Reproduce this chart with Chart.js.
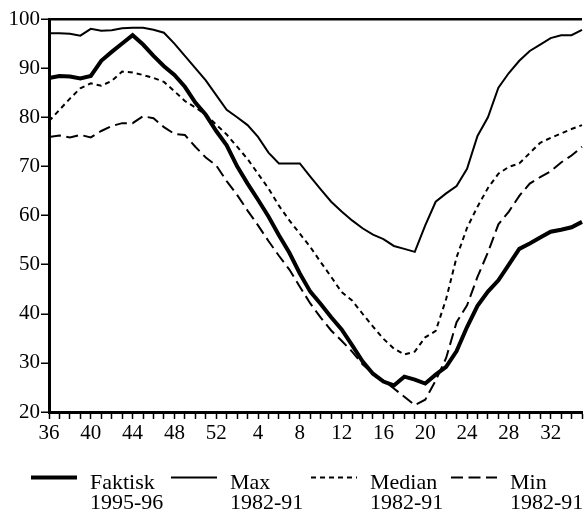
<!DOCTYPE html>
<html>
<head>
<meta charset="utf-8">
<script src="https://cdn.jsdelivr.net/npm/chart.js@4.4.0/dist/chart.umd.min.js"></script>
<style>
  html, body { margin: 0; padding: 0; background: #fff; }
  canvas { display: block; }
</style>
</head>
<body>
<canvas id="chart" width="584" height="512"></canvas>
<script>
// uker: 36-52, så 1-35
const weeks = [36, 37, 38, 39, 40, 41, 42, 43, 44, 45, 46, 47, 48, 49, 50, 51, 52,
  1, 2, 3, 4, 5, 6, 7, 8, 9, 10, 11, 12, 13, 14, 15, 16, 17, 18, 19, 20,
  21, 22, 23, 24, 25, 26, 27, 28, 29, 30, 31, 32, 33, 34, 35];

const faktisk = [88.0, 88.4, 88.3, 87.9, 88.4, 91.5, 93.3, 95.0, 96.7, 94.8, 92.5, 90.4, 88.6, 86.2, 83.0, 80.5, 77.2,
  74.3, 70.0, 66.5, 63.2, 59.8, 56.0, 52.4, 48.2, 44.5, 42.0, 39.3, 36.8, 33.6, 30.3, 27.8, 26.2, 25.4, 27.2, 26.6, 25.8,
  27.6, 29.2, 32.4, 37.3, 41.6, 44.5, 46.8, 50.0, 53.2, 54.3, 55.5, 56.7, 57.1, 57.6, 58.7];

const maks = [97.1, 97.1, 97.0, 96.6, 98.0, 97.6, 97.7, 98.1, 98.2, 98.2, 97.8, 97.2, 95.0, 92.5, 90.0, 87.5, 84.5,
  81.5, 80.0, 78.4, 76.0, 72.8, 70.6, 70.6, 70.6, 67.9, 65.3, 62.8, 60.8, 59.0, 57.4, 56.1, 55.2, 53.8, 53.2, 52.6, 58.0,
  62.8, 64.5, 66.0, 69.5, 76.2, 80.0, 86.0, 89.0, 91.5, 93.5, 94.8, 96.1, 96.7, 96.7, 97.8];

const median = [79.2, 81.5, 83.8, 85.9, 86.9, 86.4, 87.4, 89.3, 89.1, 88.6, 88.0, 87.2, 85.3, 83.3, 82.0, 80.5, 78.5,
  76.5, 74.0, 71.5, 68.5, 65.5, 62.0, 59.0, 56.3, 53.6, 50.5, 47.5, 44.4, 42.7, 40.0, 37.4, 34.9, 32.9, 31.7, 32.3, 35.2,
  36.5, 43.0, 51.5, 57.5, 61.8, 65.6, 68.5, 69.9, 70.6, 72.7, 74.8, 75.8, 76.7, 77.6, 78.4];

const minimum = [76.0, 76.3, 75.9, 76.4, 75.9, 77.2, 78.2, 78.8, 78.8, 80.2, 79.8, 78.0, 76.6, 76.4, 74.0, 71.8, 70.2,
  67.0, 64.2, 61.0, 58.0, 54.8, 51.8, 49.0, 45.5, 42.1, 39.2, 36.6, 34.5, 32.3, 29.7, 27.8, 26.4, 24.8, 23.1, 21.4, 22.5,
  26.4, 31.0, 38.3, 41.7, 47.5, 52.5, 58.2, 60.8, 64.0, 66.5, 67.8, 69.0, 70.8, 72.2, 74.0];

const seriesNames = ["Faktisk", "Max", "Median", "Min"];
const seriesPeriods = ["1995-96", "1982-91", "1982-91", "1982-91"];
const yTicks = [20, 30, 40, 50, 60, 70, 80, 90, 100];

const FONT = "'Liberation Serif', 'Times New Roman', serif";

// tegner legenden med to linjer tekst under grafen
const legendPlugin = {
  id: "twoLineLegend",
  afterDraw(chart) {
    const ctx = chart.ctx;
    ctx.save();
    chart.data.datasets.forEach((ds, i) => {
      const x0 = 31 + 140 * i;
      ctx.strokeStyle = "#000";
      ctx.lineWidth = ds.borderWidth;
      ctx.setLineDash(ds.borderDash || []);
      ctx.beginPath();
      ctx.moveTo(x0, 477.5);
      ctx.lineTo(x0 + 46, 477.5);
      ctx.stroke();
      ctx.setLineDash([]);
      ctx.fillStyle = "#000";
      ctx.font = "22px " + FONT;
      ctx.textBaseline = "alphabetic";
      ctx.textAlign = "left";
      ctx.fillText(seriesNames[i], x0 + 59, 489);
      ctx.fillText(seriesPeriods[i], x0 + 59, 509);
    });
    ctx.restore();
  }
};

const line = (label, data, width, dash) => ({
  label, data,
  borderColor: "#000",
  borderWidth: width,
  borderDash: dash,
  pointRadius: 0,
  tension: 0,
  fill: false
});

new Chart(document.getElementById("chart"), {
  type: "line",
  data: {
    labels: weeks,
    datasets: [
      line(seriesNames[0], faktisk, 4, []),
      line(seriesNames[1], maks, 2, []),
      line(seriesNames[2], median, 2, [5, 4]),
      line(seriesNames[3], minimum, 2, [12, 5.5])
    ]
  },
  options: {
    responsive: false,
    animation: false,
    layout: { padding: { top: 19, left: 0, right: 0, bottom: 0 } },
    plugins: { legend: { display: false }, tooltip: { enabled: false } },
    scales: {
      x: {
        type: "category",
        offset: false,
        border: { color: "#000", width: 3 },
        grid: { drawOnChartArea: false, drawTicks: true, tickLength: 7, tickColor: "#000", tickWidth: 1.5 },
        ticks: {
          autoSkip: false,
          maxRotation: 0,
          color: "#000",
          padding: 2,
          font: { family: FONT, size: 21 },
          callback: (v, i) => (i % 4 === 0 ? weeks[i] : "")
        },
        afterFit: s => { s.height = 100; }
      },
      y: {
        min: 20,
        max: 100,
        border: { color: "#000", width: 3 },
        grid: {
          drawOnChartArea: true,
          color: c => (c.tick && c.tick.value === 100 ? "#000" : "rgba(0,0,0,0)"),
          lineWidth: 2.5,
          drawTicks: true,
          tickLength: 8,
          tickColor: "#000",
          tickWidth: 1.5
        },
        afterBuildTicks: s => { s.ticks = yTicks.map(v => ({ value: v })); },
        ticks: { color: "#000", padding: 1, font: { family: FONT, size: 21 } },
        afterFit: s => { s.width = 49; }
      }
    }
  },
  plugins: [legendPlugin]
});
</script>
</body>
</html>
